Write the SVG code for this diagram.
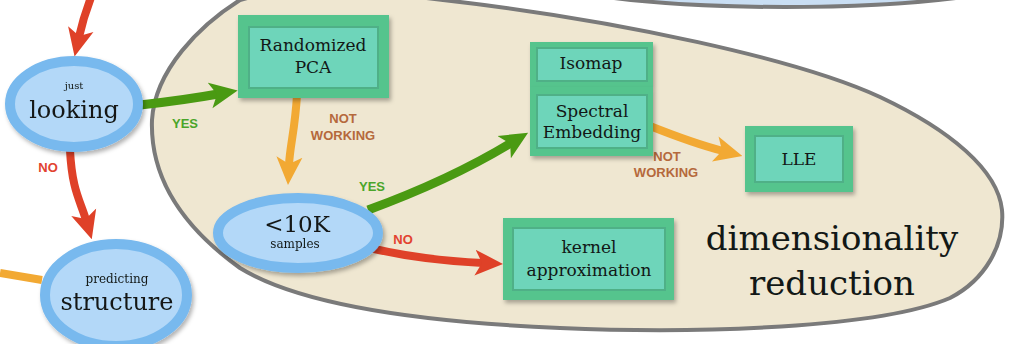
<svg xmlns="http://www.w3.org/2000/svg" width="1014" height="344" viewBox="0 0 1014 344">
  <defs>
    <style>
      .blob { fill: #efe7d1; stroke: #7a7a7a; stroke-width: 4; }
      .ell { fill: #b3d8f8; stroke: #78b9ee; stroke-width: 10; }
      .boxo { fill: #55c48d; }
      .boxi { fill: #6ed5ba; stroke: #4fb087; stroke-width: 2; }
      .t { font-family: "DejaVu Serif", "Liberation Serif", serif; fill: #121816; text-anchor: middle; }
      .bt { font-size: 17px; }
      .lab { font-family: "Liberation Sans", Arial, sans-serif; font-weight: bold; font-size: 13px; text-anchor: middle; }
      .yes { fill: #4aa52a; }
      .no { fill: #e2432f; }
      .nw { fill: #b5693c; }
      .g { fill: none; stroke: #4a9a12; stroke-width: 9; }
      .r { fill: none; stroke: #df4128; stroke-width: 8; }
      .o { fill: none; stroke: #f2a933; stroke-width: 8; }
    </style>
    <filter id="sh" x="-10%" y="-10%" width="130%" height="140%">
      <feDropShadow dx="2" dy="3" stdDeviation="2" flood-color="#000" flood-opacity="0.3"/>
    </filter>
    <marker id="ag" viewBox="0 0 28 28" markerWidth="28" markerHeight="28" refX="8" refY="14" orient="auto" markerUnits="userSpaceOnUse">
      <path d="M0,1 L28,14 L0,27 L7,14 Z" fill="#4a9a12"/>
    </marker>
    <marker id="ar" viewBox="0 0 28 28" markerWidth="28" markerHeight="28" refX="8" refY="14" orient="auto" markerUnits="userSpaceOnUse">
      <path d="M0,1 L28,14 L0,27 L7,14 Z" fill="#df4128"/>
    </marker>
    <marker id="ao" viewBox="0 0 28 28" markerWidth="28" markerHeight="28" refX="8" refY="14" orient="auto" markerUnits="userSpaceOnUse">
      <path d="M0,1 L28,14 L0,27 L7,14 Z" fill="#f2a933"/>
    </marker>
  </defs>

  <rect width="1014" height="344" fill="#ffffff"/>

  <!-- partial node at top right -->
  <g id="top-node">
    <ellipse cx="785" cy="-33" rx="270" ry="40" fill="#c9def3" stroke="#7a7a7a" stroke-width="4"/>
  </g>

  <!-- cluster: dimensionality reduction -->
  <g id="cluster-dimensionality-reduction">
    <path class="blob" d="M 240,0 C 200,25 155,70 152,120 C 150,175 180,225 240,268 C 300,305 420,322 560,328 C 700,334 880,328 950,298 C 985,280 1005,245 1002,210 C 998,170 950,130 880,97 C 800,60 620,20 443,0 C 380,-8 290,-15 240,0 Z"/>
    <text class="t" x="832" y="250" font-size="34">dimensionality</text>
    <text class="t" x="832" y="295" font-size="34">reduction</text>
  </g>

  <!-- connectors -->
  <g id="connectors">
    <path class="r" d="M 92,-5 Q 84,15 79,37" marker-end="url(#ar)"/>
    <path class="r" d="M 70,150 C 72,190 80,200 86,220" marker-end="url(#ar)"/>
    <path class="o" d="M 0,273 L 42,280"/>
    <path class="g" d="M 140,105 Q 185,100 218,94" marker-end="url(#ag)"/>
    <path class="o" d="M 297,95 C 295,130 290,145 289,165" marker-end="url(#ao)"/>
    <path class="g" d="M 368,210 Q 450,180 511,143" marker-end="url(#ag)"/>
    <path class="r" d="M 370,248 Q 420,260 483,263" marker-end="url(#ar)"/>
    <path class="o" d="M 650,126 C 680,138 700,145 723,151" marker-end="url(#ao)"/>
  </g>

  <!-- edge labels -->
  <g id="edge-labels">
    <text class="lab yes" x="185" y="128">YES</text>
    <text class="lab no" x="48" y="172">NO</text>
    <text class="lab nw" x="343" y="123">NOT</text>
    <text class="lab nw" x="343" y="140">WORKING</text>
    <text class="lab yes" x="372" y="191">YES</text>
    <text class="lab no" x="403" y="244">NO</text>
    <text class="lab nw" x="667" y="161">NOT</text>
    <text class="lab nw" x="666" y="177">WORKING</text>
  </g>

  <!-- nodes -->
  <g id="just-looking" filter="url(#sh)">
    <ellipse class="ell" cx="74" cy="104" rx="64" ry="43"/>
    <text class="t" x="74" y="89" font-size="10" fill="#333">just</text>
    <text class="t" x="74" y="118" font-size="24">looking</text>
  </g>

  <g id="predicting-structure" filter="url(#sh)">
    <ellipse class="ell" cx="116" cy="295" rx="71" ry="51"/>
    <text class="t" x="117" y="283" font-size="12" fill="#333">predicting</text>
    <text class="t" x="117" y="310" font-size="24">structure</text>
  </g>

  <g id="less-10k-samples" filter="url(#sh)">
    <ellipse class="ell" cx="298" cy="233" rx="80" ry="35"/>
    <text class="t" x="297" y="232" font-size="23">&lt;10K</text>
    <text class="t" x="295" y="248" font-size="12" fill="#333">samples</text>
  </g>

  <g id="randomized-pca">
    <rect class="boxo" x="238" y="15" width="151" height="83" filter="url(#sh)"/>
    <rect class="boxi" x="249" y="27" width="129" height="61"/>
    <text class="t bt" x="313" y="51">Randomized</text>
    <text class="t bt" x="313" y="73">PCA</text>
  </g>

  <g id="isomap">
    <rect class="boxo" x="530" y="42" width="123" height="45" filter="url(#sh)"/>
    <rect class="boxi" x="537" y="48" width="110" height="33"/>
    <text class="t bt" x="591" y="69">Isomap</text>
  </g>

  <g id="spectral-embedding">
    <rect class="boxo" x="530" y="87" width="123" height="69" filter="url(#sh)"/>
    <rect class="boxi" x="537" y="95" width="110" height="53"/>
    <text class="t bt" x="592" y="117">Spectral</text>
    <text class="t bt" x="592" y="138">Embedding</text>
  </g>

  <g id="lle">
    <rect class="boxo" x="745" y="126" width="108" height="66" filter="url(#sh)"/>
    <rect class="boxi" x="755" y="136" width="88" height="46"/>
    <text class="t bt" x="799" y="165">LLE</text>
  </g>

  <g id="kernel-approximation">
    <rect class="boxo" x="503" y="218" width="171" height="82" filter="url(#sh)"/>
    <rect class="boxi" x="513" y="228" width="152" height="62"/>
    <text class="t bt" x="589" y="253">kernel</text>
    <text class="t bt" x="589" y="276">approximation</text>
  </g>
</svg>
